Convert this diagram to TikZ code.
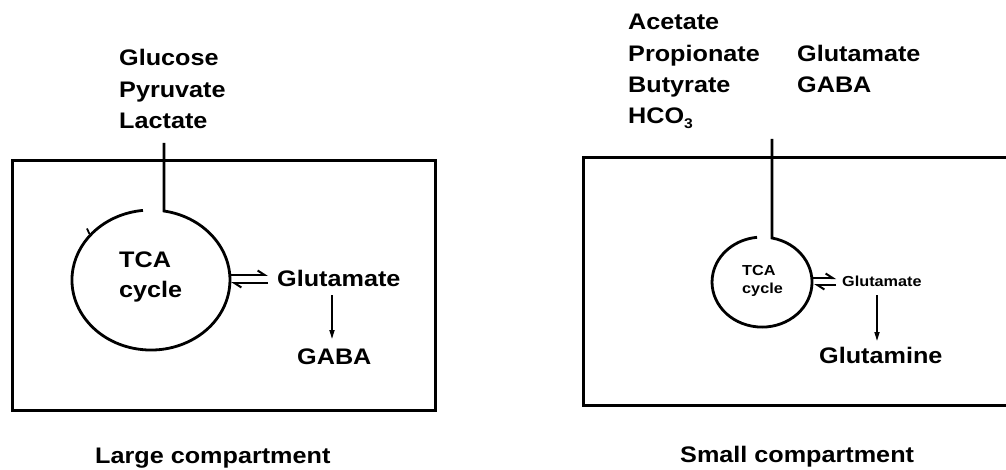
\documentclass[tikz,border=0pt]{standalone}
\usepackage{fontspec}
\newfontfamily\lab{Liberation Sans}[FakeStretch=1.12]
\usetikzlibrary{arrows.meta}
\begin{document}
\begin{tikzpicture}[x=1pt,y=-1pt,
  big/.style={font=\lab\bfseries\fontsize{22.5}{26}\selectfont, inner sep=0pt, anchor=base west},
  small/.style={font=\lab\bfseries\fontsize{14.5}{17}\selectfont, inner sep=0pt, anchor=base west},
  wall/.style={line width=3pt},
  cyc/.style={line width=2.8pt},
  hup/.style={line width=2.3pt, -{Straight Barb[harpoon, length=7pt, width=9pt, line width=2pt]}},
  hdn/.style={line width=2.3pt, -{Straight Barb[harpoon, length=7pt, width=9pt, line width=2pt]}},
  down/.style={line width=1.6pt, -{Triangle[length=9pt, width=5pt]}}]
\useasboundingbox (0,0) rectangle (1006,470);

% ---------- Large compartment ----------
\draw[wall] (12,161) rectangle (435,410);
\node[big] (glc) at (119,66) {Glucose};
\node[big] (pyr) at (119,97.5) {Pyruvate};
\node[big] (lac) at (119,129) {Lactate};
\coordinate (lin) at (164,143);
\coordinate (ltop) at (164,211);
\draw[cyc, line join=miter] (lin) -- (ltop) arc[start angle=80.5, end angle=-264.2, x radius=79pt, y radius=70pt];
\draw[line width=1.8pt] (89.5,234) -- (87,228.5);
\node[big] (tca1) at (119,268) {TCA};
\node[big] (cyc1) at (119,297) {cycle};
\node[big] (glu1) at (277,287) {Glutamate};
\node[big] (gaba1) at (297,364) {GABA};
\coordinate (h1a) at (229,275);
\coordinate (h1b) at (268,275);
\coordinate (h1c) at (268,283);
\coordinate (h1d) at (231,283);
\draw[hup] (h1a) -- (h1b);
\draw[hdn] (h1c) -- (h1d);
\coordinate (d1a) at (332,295);
\coordinate (d1b) at (332,339);
\draw[down] (d1a) -- (d1b);
\node[big] (lcap) at (95,463) {Large compartment};

% ---------- Small compartment ----------
\draw[wall] (1008,158) -- (583,158) -- (583,405) -- (1008,405);
\node[big] (ace) at (628,30) {Acetate};
\node[big] (pro) at (628,62) {Propionate};
\node[big] (but) at (628,93) {Butyrate};
\node[big] (hco) at (628,124) {HCO\raisebox{-5pt}{\fontsize{14}{14}\selectfont 3}};
\node[big] (glu2) at (797,62) {Glutamate};
\node[big] (gaba2) at (797,93) {GABA};
\coordinate (rin) at (772,139);
\coordinate (rtop) at (772,238);
\draw[cyc, line join=miter] (rin) -- (rtop) arc[start angle=78.5, end angle=-264.3, x radius=50pt, y radius=45pt];
\node[small] (tca2) at (742,276) {TCA};
\node[small] (cyc2) at (742,293) {cycle};
\node[small] (glu3) at (842,287) {Glutamate};
\node[big] (gln) at (819,363) {Glutamine};
\coordinate (h2a) at (812,278);
\coordinate (h2b) at (836,278);
\coordinate (h2c) at (836,285);
\coordinate (h2d) at (814,285);
\draw[hup] (h2a) -- (h2b);
\draw[hdn] (h2c) -- (h2d);
\coordinate (d2a) at (877,295);
\coordinate (d2b) at (877,341);
\draw[down] (d2a) -- (d2b);
\node[big] (scap) at (680,462) {Small compartment};
\end{tikzpicture}
\end{document}
